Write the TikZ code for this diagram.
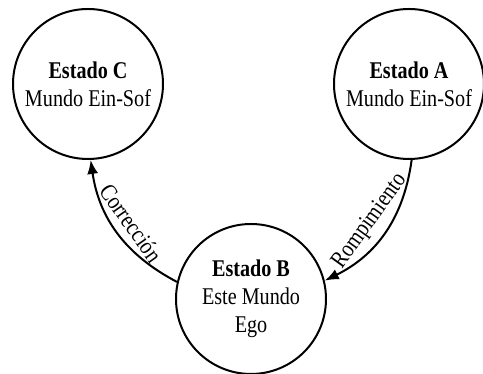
\documentclass[tikz,border=0pt]{standalone}
\usepackage{fontspec}
\setmainfont[FakeStretch=0.84]{Liberation Serif}
\usetikzlibrary{arrows.meta}
\begin{document}
	\begin{tikzpicture}[x=1pt,y=1pt,
		estado/.style={circle,draw,line width=2pt,minimum size=150pt,inner sep=0pt,align=center,font=\fontsize{24}{28}\selectfont},
		paso/.style={line width=2pt,-{Latex[length=14pt,width=11pt]}},
		rotulo/.style={font=\fontsize{24}{28}\selectfont,sloped,above,inner sep=7pt}]
		\useasboundingbox (0,0) rectangle (483,374);
		\node[estado] (C) at (88,290) {\textbf{Estado C}\\Mundo Ein-Sof};
		\node[estado] (A) at (409,290) {\textbf{Estado A}\\Mundo Ein-Sof};
		\node[estado] (B) at (251,75) {\textbf{Estado B}\\Este Mundo\\Ego};
		\draw[paso] (A.-88) to[bend left=28] node[rotulo] {Rompimiento} (B.14);
		\draw[paso] (B.167) to[bend left=27] node[rotulo] {Corrección} (C.-88);
	\end{tikzpicture}
\end{document}
